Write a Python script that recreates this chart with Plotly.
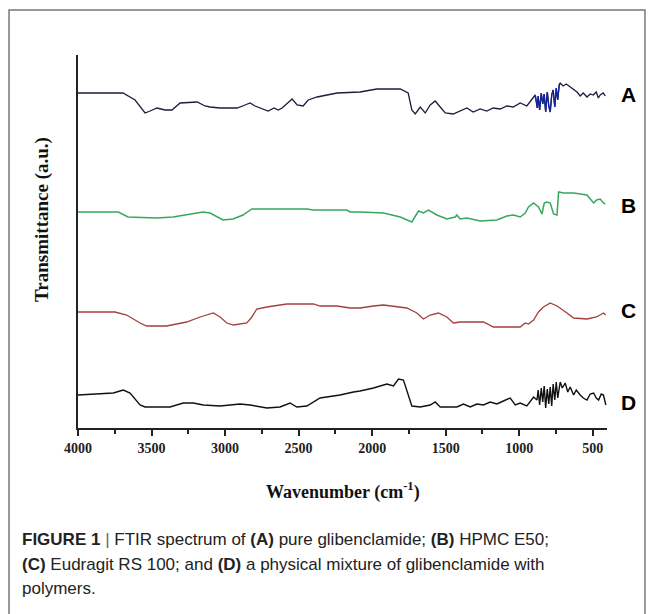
import plotly.graph_objects as go

# ---- data (wavenumber in cm^-1, transmittance in a.u.) ----
wn_A = [4000, 3694, 3612, 3544, 3510, 3463, 3408, 3361, 3306, 3238, 3190, 3136, 3102, 3034, 2918,
        2864, 2830, 2796, 2762, 2707, 2667, 2639, 2612, 2571, 2544, 2510, 2469, 2435, 2374, 2306,
        2238, 2082, 1968, 1809, 1755, 1730, 1707, 1673, 1639, 1605, 1571, 1537, 1503, 1449, 1401,
        1356, 1313, 1265, 1220, 1177, 1129, 1084, 1041, 993, 948, 905, 891, 877, 871, 861, 850, 840,
        830, 820, 809, 799, 789, 779, 769, 758, 748, 738, 728, 721, 701, 680, 653, 633, 607, 585,
        564, 539, 517, 497, 476, 462, 449, 428, 415]
T_A = [335, 335, 328, 315, 317, 320, 318, 318, 325, 326, 326, 322, 321, 320, 320,
       323, 325, 322, 320, 317, 320, 318, 320, 325, 329, 323, 322, 328, 331, 333,
       335, 336, 339, 339, 335, 318, 314, 321, 315, 323, 327, 321, 315, 314, 317,
       320, 316, 319, 317, 320, 319, 322, 321, 325, 322, 330, 333, 320, 332, 318, 335, 324,
       334, 316, 336, 322, 316, 333, 338, 321, 340, 328, 343, 345, 342, 344, 341, 338, 336, 332,
       335, 331, 334, 333, 336, 330, 333, 335, 332]

wn_B = [4000, 3726, 3660, 3465, 3354, 3218, 3150, 3102, 3056, 3014, 2946, 2878, 2818, 2762, 2444,
        2401, 2172, 2150, 2082, 1923, 1809, 1730, 1685, 1651, 1617, 1560, 1492, 1435, 1424, 1401,
        1356, 1265, 1152, 1084, 1039, 993, 959, 937, 902, 869, 845, 830, 812, 789, 766, 743, 732,
        697, 630, 539, 494, 474, 449, 427, 415]
T_B = [216, 216, 211, 210, 211, 214, 216, 215, 211, 208, 209, 213, 219, 219, 219,
       218, 218, 216, 216, 215, 211, 206, 217, 215, 218, 213, 209, 211, 213, 209,
       210, 207, 208, 212, 213, 211, 215, 221, 225, 221, 214, 225, 226, 225, 214, 213, 236,
       235, 235, 233, 225, 228, 229, 225, 224]

wn_C = [4000, 3748, 3669, 3578, 3533, 3397, 3261, 3170, 3080, 3034, 2988, 2943, 2852, 2818, 2784,
        2716, 2580, 2399, 2354, 2240, 2150, 2082, 1991, 1923, 1764, 1696, 1651, 1605, 1549, 1492,
        1447, 1401, 1243, 1175, 993, 959, 937, 902, 869, 835, 789, 743, 675, 630, 539, 474, 427, 411]
T_C = [116, 116, 113, 105, 102, 102, 106, 111, 115, 111, 105, 103, 105, 111, 119,
       121, 124, 124, 122, 122, 120, 120, 122, 123, 120, 115, 109, 113, 115, 111,
       105, 106, 106, 101, 101, 105, 104, 108, 116, 121, 125, 122, 115, 110, 109, 111, 115, 113]

wn_D = [4000, 3760, 3692, 3646, 3578, 3544, 3374, 3284, 3216, 3148, 3034, 2898, 2830, 2716, 2626,
        2558, 2512, 2444, 2354, 2218, 2127, 2082, 1991, 1900, 1855, 1821, 1787, 1764, 1730, 1673,
        1605, 1571, 1537, 1492, 1424, 1379, 1333, 1288, 1243, 1197, 1152, 1107, 1061, 1027, 993,
        948, 902, 879, 871, 861, 850, 840, 830, 820, 809, 799, 789, 779, 769, 758, 748, 738, 721,
        707, 687, 670, 653, 630, 612, 585, 564, 539, 517, 494, 476, 460, 442, 427, 411]
T_D = [33, 35, 38, 35, 23, 21, 21, 25, 25, 23, 22, 24, 23, 20, 21,
       25, 21, 22, 30, 33, 36, 37, 40, 44, 42, 49, 48, 38, 22, 21,
       23, 26, 21, 21, 21, 24, 21, 24, 23, 26, 24, 27, 30, 23, 25,
       22, 31, 28, 38, 23, 40, 26, 42, 20, 39, 24, 41, 22, 44, 28, 46, 30, 46,
       40, 45, 36, 41, 33, 38, 33, 30, 28, 34, 35, 30, 28, 34, 33, 23]

x_tick_vals = [4000, 3500, 3000, 2500, 2000, 1500, 1000, 500]
x_tick_text = ["4000", "3500", "3000", "2500", "2000", "1500", "1000", "500"]
series_labels = ["A", "B", "C", "D"]
label_levels = [333.5, 223, 117.5, 26]

# blue-looking dense fingerprint part of spectrum A
spk = [(w, t) for w, t in zip(wn_A, T_A) if 721 <= w <= 905]

fig = go.Figure()
fig.add_trace(go.Scatter(x=wn_A, y=T_A, mode="lines", line=dict(color="#1c1d3e", width=1.3)))
fig.add_trace(go.Scatter(x=[p[0] for p in spk], y=[p[1] for p in spk], mode="lines",
                         line=dict(color="#13239a", width=1.3)))
fig.add_trace(go.Scatter(x=wn_B, y=T_B, mode="lines", line=dict(color="#36a85e", width=1.5)))
fig.add_trace(go.Scatter(x=wn_C, y=T_C, mode="lines", line=dict(color="#a2403c", width=1.3)))
fig.add_trace(go.Scatter(x=wn_D, y=T_D, mode="lines", line=dict(color="#111111", width=1.4)))

serif = "Liberation Serif, Times New Roman, serif"
sans = "Liberation Sans, Arial, sans-serif"

fig.update_layout(
    width=654, height=614,
    margin=dict(l=70, r=55, t=47, b=194),
    paper_bgcolor="white", plot_bgcolor="white",
    showlegend=False,
    xaxis=dict(range=[4000, 403], tickvals=x_tick_vals,
               ticktext=["<b>%s</b>" % t for t in x_tick_text],
               tickfont=dict(family=serif, size=14, color="#222"),
               showline=True, linecolor="#222", linewidth=1.5,
               ticks="outside", ticklen=6, tickwidth=1.5, tickcolor="#222",
               minor=dict(tickvals=[3750, 3250, 2750, 2250, 1750, 1250, 750],
                          ticks="outside", ticklen=4, tickwidth=1.5, tickcolor="#222"),
               showgrid=False, zeroline=False),
    yaxis=dict(range=[0, 373], showline=True, linecolor="#222", linewidth=1.5,
               showticklabels=False, ticks="", showgrid=False, zeroline=False),
)

for lab, lev in zip(series_labels, label_levels):
    fig.add_annotation(x=1.04, xref="paper", y=lev, yref="y", text="<b>%s</b>" % lab,
                       showarrow=False, xanchor="center", yanchor="middle",
                       font=dict(family=sans, size=21, color="#000"))

fig.add_annotation(x=0.501, xref="paper", y=-0.169, yref="paper",
                   text="<b>Wavenumber (cm<sup>-1</sup>)</b>", showarrow=False,
                   xanchor="center", yanchor="middle",
                   font=dict(family=serif, size=18, color="#111"))
fig.add_annotation(x=-0.068, xref="paper", y=0.558, yref="paper",
                   text="<b>Transmittance (a.u.)</b>", showarrow=False, textangle=-90,
                   xanchor="center", yanchor="middle",
                   font=dict(family=serif, size=19, color="#111"))

caption_lines = [
    "<b>FIGURE 1</b> <span style='color:#666'>|</span> FTIR spectrum of <b>(A)</b> pure glibenclamide; <b>(B)</b> HPMC E50;",
    "<b>(C)</b> Eudragit RS 100; and <b>(D)</b> a physical mixture of glibenclamide with",
    "polymers.",
]
caption_y = [-0.300, -0.365, -0.429]
for line, cy in zip(caption_lines, caption_y):
    fig.add_annotation(x=-0.1096, xref="paper", y=cy, yref="paper", text=line,
                       showarrow=False, xanchor="left", yanchor="middle", align="left",
                       font=dict(family=sans, size=17, color="#222"))

# figure frame
fig.add_shape(type="rect", xref="paper", yref="paper", x0=-0.1304, x1=1.0718, y0=-0.56, y1=1.1206,
              line=dict(color="#777", width=1.5), fillcolor="rgba(0,0,0,0)", layer="below")

fig.write_html("out.html")
